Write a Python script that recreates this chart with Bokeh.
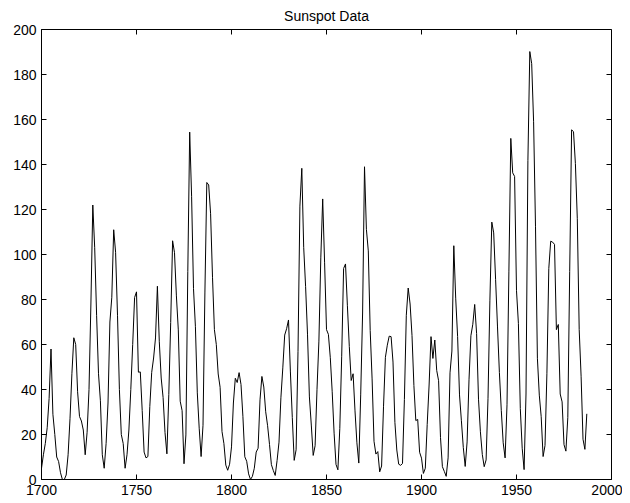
import math
from bokeh.plotting import figure
from bokeh.models import Range1d, LinearAxis, Title, FixedTicker
from bokeh.embed import file_html
from bokeh.resources import INLINE

start_year = 1700
sunspots = [
    5, 11, 16, 23, 36, 58, 29, 20, 10, 8,
    3, 0, 0, 2, 11, 27, 47, 63, 60, 39,
    28, 26, 22, 11, 21, 40, 78, 122, 103, 73,
    47, 35, 11, 5, 16, 34, 70, 81, 111, 101,
    73, 40, 20, 16, 5, 11, 22, 40, 60, 80.9,
    83.4, 47.7, 47.8, 30.7, 12.2, 9.6, 10.2, 32.4, 47.6, 54,
    62.9, 85.9, 61.2, 45.1, 36.4, 20.9, 11.4, 37.8, 69.8, 106.1,
    100.8, 81.6, 66.5, 34.8, 30.6, 7, 19.8, 92.5, 154.4, 125.9,
    84.8, 68.1, 38.5, 22.8, 10.2, 24.1, 82.9, 132, 130.9, 118.1,
    89.9, 66.6, 60, 46.9, 41, 21.3, 16, 6.4, 4.1, 6.8,
    14.5, 34, 45, 43.1, 47.5, 42.2, 28.1, 10.1, 8.1, 2.5,
    0, 1.4, 5, 12.2, 13.9, 35.4, 45.8, 41.1, 30.1, 23.9,
    15.6, 6.6, 4, 1.8, 8.5, 16.6, 36.3, 49.6, 64.2, 67,
    70.9, 47.8, 27.5, 8.5, 13.2, 56.9, 121.5, 138.3, 103.2, 85.7,
    64.6, 36.7, 24.2, 10.7, 15, 40.1, 61.5, 98.5, 124.7, 96.3,
    66.6, 64.5, 54.1, 39, 20.6, 6.7, 4.3, 22.7, 54.8, 93.8,
    95.8, 77.2, 59.1, 44, 47, 30.5, 16.3, 7.3, 37.6, 74,
    139, 111.2, 101.6, 66.2, 44.7, 17, 11.3, 12.4, 3.4, 6,
    32.3, 54.3, 59.7, 63.7, 63.5, 52.2, 25.4, 13.1, 6.8, 6.3,
    7.1, 35.6, 73, 85.1, 78, 64, 41.8, 26.2, 26.7, 12.1,
    9.5, 2.7, 5, 24.4, 42, 63.5, 53.8, 62, 48.5, 43.9,
    18.6, 5.7, 3.6, 1.4, 9.6, 47.4, 57.1, 103.9, 80.6, 63.6,
    37.6, 26.1, 14.2, 5.8, 16.7, 44.3, 63.9, 69, 77.8, 64.9,
    35.7, 21.2, 11.1, 5.7, 8.7, 36.1, 79.7, 114.4, 109.6, 88.8,
    67.8, 47.5, 30.6, 16.3, 9.6, 33.2, 92.6, 151.6, 136.3, 134.7,
    83.9, 69.4, 31.5, 13.9, 4.4, 38, 141.7, 190.2, 184.8, 159,
    112.3, 53.9, 37.5, 27.9, 10.2, 15.1, 47, 93.8, 105.9, 105.5,
    104.5, 66.6, 68.9, 38, 34.5, 15.5, 12.6, 27.5, 92.5, 155.4,
    154.6, 140.4, 115.9, 66.6, 45.9, 17.9, 13.4, 29.2,
]
years = [start_year + i for i in range(len(sunspots))]

x_ticks = [1700, 1750, 1800, 1850, 1900, 1950, 2000]
y_ticks = [0, 20, 40, 60, 80, 100, 120, 140, 160, 180, 200]
title_text = "Sunspot Data"

FONT = "Liberation Sans"
X0, X1 = 1700, 2000
Y0, Y1 = 0, 200

p = figure(width=622, height=503, output_backend="svg", toolbar_location=None,
           x_range=Range1d(X0, X1), y_range=Range1d(Y0, Y1),
           x_axis_location=None, y_axis_location=None,
           min_border_left=41, min_border_right=11, min_border_top=29, min_border_bottom=24)
p.background_fill_color = "white"
p.border_fill_color = "white"
p.outline_line_color = "black"
p.outline_line_width = 1
p.grid.visible = False

def make_axis(ticks):
    ax = LinearAxis(ticker=FixedTicker(ticks=ticks))
    ax.axis_line_color = "black"
    ax.axis_line_width = 1
    ax.major_tick_in = 5
    ax.major_tick_out = 0
    ax.major_tick_line_color = "black"
    ax.minor_tick_line_color = None
    ax.major_label_text_font = FONT
    ax.major_label_text_color = "black"
    ax.major_label_text_font_size = "14px"
    ax.major_label_standoff = 5
    return ax

p.add_layout(make_axis(x_ticks), "below")
p.add_layout(make_axis(y_ticks), "left")

# mirror ticks on top and right edges (clipped to the frame -> point inward)
p.scatter(x_ticks, [Y1] * len(x_ticks), marker="dash", angle=math.pi / 2,
          size=10, line_color="black", line_width=1)
p.scatter([X1] * len(y_ticks), y_ticks, marker="dash", angle=0,
          size=10, line_color="black", line_width=1)

t = Title(text=title_text, align="center", text_font=FONT, text_font_size="14px",
          text_font_style="normal", text_color="black", standoff=11)
p.add_layout(t, "above")

p.line(years, sunspots, line_color="black", line_width=1)

open("out.html", "w").write(file_html(p, INLINE))
